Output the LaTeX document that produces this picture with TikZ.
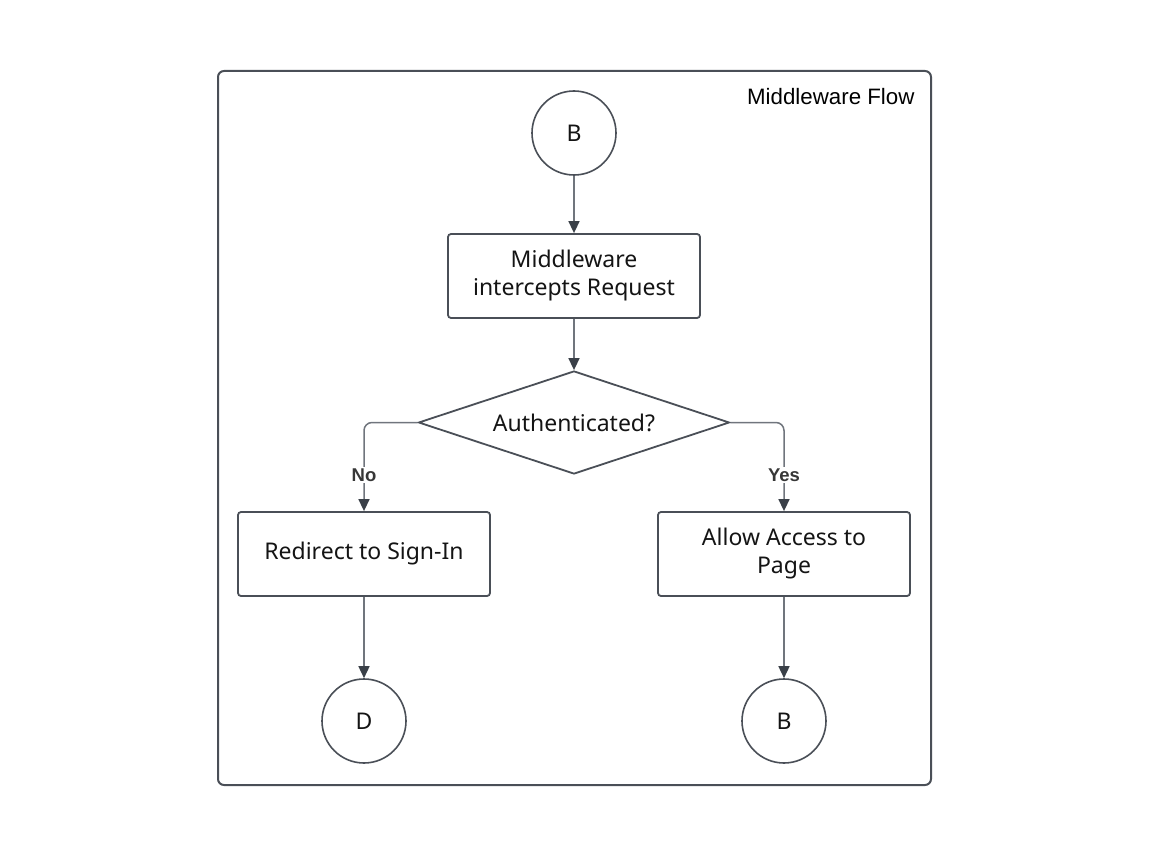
\documentclass[tikz,border=0pt]{standalone}
\usepackage{fontspec}
\setmainfont{Liberation Sans}
\newfontfamily\nodefont{Noto Sans}
\usetikzlibrary{shapes.geometric,arrows.meta}
\definecolor{strokec}{HTML}{4A4F57}
\definecolor{linec}{HTML}{70757D}
\definecolor{tipc}{HTML}{3A4048}
\definecolor{textc}{HTML}{141414}
\tikzset{
  box/.style={draw=strokec, line width=1.8pt, rounded corners=3pt, minimum width=252pt, minimum height=84pt, align=center, font=\nodefont\fontsize{23}{28}\selectfont, text=textc, inner sep=0pt},
  term/.style={draw=strokec, line width=1.6pt, circle, minimum size=84pt, inner sep=0pt, font=\nodefont\fontsize{23}{24}\selectfont, text=textc},
  dec/.style={draw=strokec, line width=1.8pt, diamond, aspect=3.0, minimum width=311pt, minimum height=103pt, inner sep=0pt, font=\nodefont\fontsize{23}{24}\selectfont, text=textc},
  conn/.style={draw=linec, line width=1.5pt, rounded corners=8pt, -{Triangle[length=12pt,width=11pt,color=tipc]}},
  lbl/.style={fill=white, font=\bfseries\fontsize{18.5}{20}\selectfont, text=textc!85, inner sep=2pt},
}
\begin{document}
\begin{tikzpicture}[x=1pt,y=-1pt]
\useasboundingbox (0,0) rectangle (1152,864);
\draw[strokec, line width=2pt, rounded corners=6pt] (218,71) rectangle (931,785);
\node[anchor=east, font=\fontsize{22.3}{24}\selectfont, text=black] (title) at (918,97) {Middleware Flow};
\node[term] (b1) at (574,133) {B};
\node[box] (mw) at (574,276) {Middleware\\intercepts Request};
\node[dec] (auth) at (574,422.5) {Authenticated?};
\node[box] (redir) at (364,554) {Redirect to Sign-In};
\node[box] (allow) at (784,554) {Allow Access to\\Page};
\node[term] (d) at (364,721) {D};
\node[term] (b2) at (784,721) {B};
\coordinate (nocorner) at (364,422.5);
\coordinate (yescorner) at (784,422.5);
\draw[conn] (b1) -- (mw);
\draw[conn] (mw) -- (auth);
\draw[conn] (auth.west) -- (nocorner) -- (redir.north);
\draw[conn] (auth.east) -- (yescorner) -- (allow.north);
\node[lbl] (nolbl) at (364,475) {No};
\node[lbl] (yeslbl) at (784,475) {Yes};
\draw[conn] (redir) -- (d);
\draw[conn] (allow) -- (b2);
\end{tikzpicture}
\end{document}
